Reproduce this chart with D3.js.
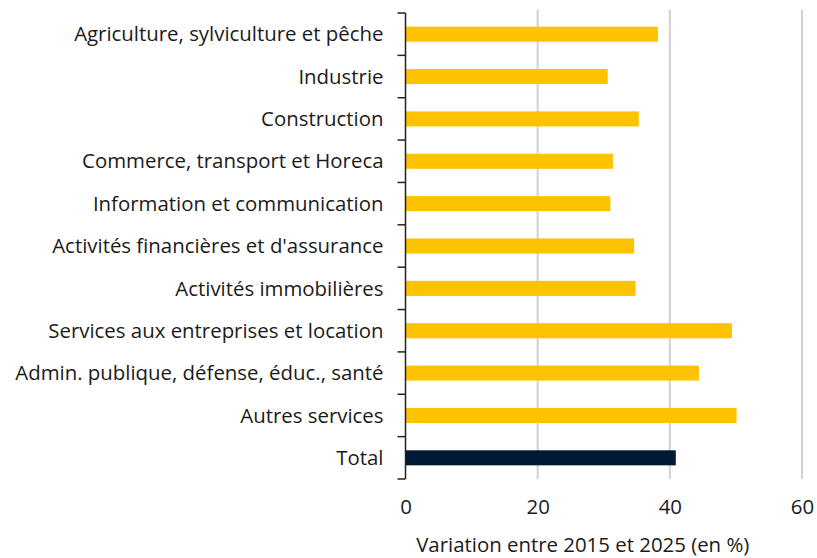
<!DOCTYPE html>
<html>
<head>
<meta charset="utf-8">
<script src="https://cdn.jsdelivr.net/npm/d3@7"></script>
<style>
	body { margin: 0; background: #fff; }
	text { font-family: "Open Sans", sans-serif; fill: #1a1a1a; }
</style>
</head>
<body>
<div id="chart"></div>
<script>
const categories = [
	"Agriculture, sylviculture et pêche",
	"Industrie",
	"Construction",
	"Commerce, transport et Horeca",
	"Information et communication",
	"Activités financières et d'assurance",
	"Activités immobilières",
	"Services aux entreprises et location",
	"Admin. publique, défense, éduc., santé",
	"Autres services",
	"Total"
];
const values = [38.2, 30.6, 35.3, 31.4, 31.0, 34.6, 34.8, 49.4, 44.4, 50.1, 40.9];
const xTicks = [0, 20, 40, 60];
const xTitle = "Variation entre 2015 et 2025 (en %)";

const W = 817, H = 558;
const margin = {top: 13, right: 15, bottom: 79, left: 405.5};
const width = 802 - margin.left;
const height = H - margin.top - margin.bottom;

const svg = d3.select("#chart").append("svg")
	.attr("width", W)
	.attr("height", H);

const g = svg.append("g")
	.attr("transform", "translate(" + margin.left + "," + margin.top + ")");

const x = d3.scaleLinear().domain([0, 60]).range([0, width]);
const y = d3.scaleBand().domain(categories).range([0, height]).paddingInner(0.645).paddingOuter(0.3225);
const yTicks = d3.scaleBand().domain(categories).range([0, height]);

// grid lines
g.append("g")
	.selectAll("line")
	.data(xTicks.slice(1))
	.join("line")
	.attr("x1", d => x(d)).attr("x2", d => x(d))
	.attr("y1", -3).attr("y2", height)
	.attr("stroke", "#d0d0d0")
	.attr("stroke-width", 2);

// bars
g.append("g")
	.selectAll("rect")
	.data(values)
	.join("rect")
	.attr("x", x(0))
	.attr("y", (d, i) => y(categories[i]))
	.attr("width", d => x(d) - x(0))
	.attr("height", y.bandwidth())
	.attr("fill", (d, i) => categories[i] == "Total" ? "#011a33" : "#fdc300");

// y axis with ticks between categories
const yAxis = g.append("g");
yAxis.append("line")
	.attr("x1", 0).attr("x2", 0)
	.attr("y1", 0).attr("y2", height)
	.attr("stroke", "#222").attr("stroke-width", 1.5);
const bounds = categories.map(c => yTicks(c)).concat([height]);
yAxis.selectAll(".tk")
	.data(bounds)
	.join("line")
	.attr("class", "tk")
	.attr("x1", -8).attr("x2", 0)
	.attr("y1", d => d).attr("y2", d => d)
	.attr("stroke", "#222").attr("stroke-width", 1.5);
yAxis.selectAll("text")
	.data(categories)
	.join("text")
	.attr("x", -22)
	.attr("y", d => yTicks(d) + yTicks.bandwidth() / 2)
	.attr("dy", "0.35em")
	.attr("text-anchor", "end")
	.style("font-size", "20.4px")
	.text(d => d);

// x axis labels
const xAxis = g.append("g")
	.attr("transform", "translate(0," + height + ")")
	.call(d3.axisBottom(x).tickValues(xTicks).tickSize(0).tickPadding(21));
xAxis.select(".domain").remove();
xAxis.selectAll("text").style("font-size", "20.4px").attr("fill", "#1a1a1a");

g.append("text")
	.attr("x", x(30) - 21)
	.attr("y", height + 73)
	.attr("text-anchor", "middle")
	.style("font-size", "20.4px")
	.text(xTitle);
</script>
</body>
</html>
